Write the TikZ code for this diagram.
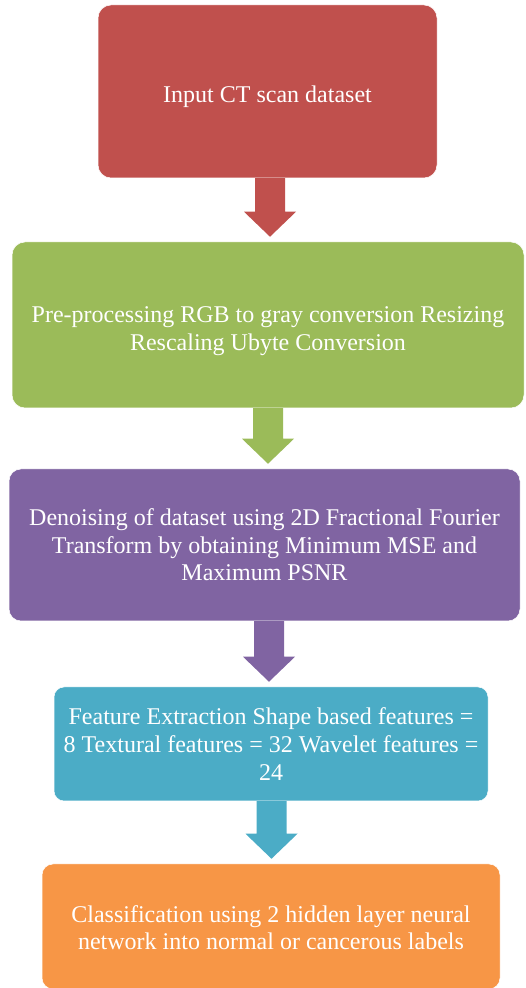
\documentclass[tikz,border=0pt]{standalone}
\usepackage{fontspec}
\setmainfont{Liberation Serif}
\usetikzlibrary{calc}
\definecolor{cred}{HTML}{C0504D}
\definecolor{cgreen}{HTML}{9BBB59}
\definecolor{cpurple}{HTML}{8064A2}
\definecolor{cblue}{HTML}{4BACC6}
\definecolor{corange}{HTML}{F79646}
\tikzset{
  box/.style={rectangle, draw=white, line width=0.5pt, text=white, align=center,
    inner sep=0pt, font=\fontsize{24}{27.6}\selectfont},
}
\newcommand{\blockarr}[4]{%
  \fill[#4] let \p1=(#1.south), \p2=(#2.north) in
    (#3pt-15pt,\y1) -- (#3pt-15pt,\y2+30pt) -- (#3pt-26pt,\y2+30pt) --
    (#3pt,\y2+5pt) -- (#3pt+26pt,\y2+30pt) -- (#3pt+15pt,\y2+30pt) --
    (#3pt+15pt,\y1) -- cycle;}
\newcommand{\lowered}[2]{\raisebox{-#1}[\height][\depth]{\begin{tabular}{@{}c@{}}#2\end{tabular}}}
\begin{document}
\begin{tikzpicture}
\useasboundingbox (0pt,0pt) rectangle (525pt,988pt);
\node[box, fill=cred, rounded corners=13pt, minimum width=339pt, minimum height=173pt]
  (r) at (267.5pt,896.5pt) {\lowered{5pt}{Input CT scan dataset}};
\node[box, fill=cgreen, rounded corners=13pt, minimum width=512pt, minimum height=166pt]
  (g) at (268pt,663pt) {\lowered{6pt}{Pre-processing RGB to gray conversion Resizing\\Rescaling Ubyte Conversion}};
\node[box, fill=cpurple, rounded corners=12pt, minimum width=511pt, minimum height=152pt]
  (p) at (264.5pt,443pt) {Denoising of dataset using 2D Fractional Fourier\\Transform by obtaining Minimum MSE and\\Maximum PSNR};
\node[box, fill=cblue, rounded corners=10pt, minimum width=434pt, minimum height=114pt]
  (b) at (271pt,244pt) {Feature Extraction Shape based features =\\8 Textural features = 32 Wavelet features =\\24};
\node[box, fill=corange, rounded corners=11pt, minimum width=458pt, minimum height=125pt]
  (o) at (271pt,61.5pt) {\lowered{4pt}{Classification using 2 hidden layer neural\\network into normal or cancerous labels}};
\blockarr{r}{g}{270}{cred}
\blockarr{g}{p}{268}{cgreen}
\blockarr{p}{b}{269}{cpurple}
\blockarr{b}{o}{271.5}{cblue}
\end{tikzpicture}
\end{document}
